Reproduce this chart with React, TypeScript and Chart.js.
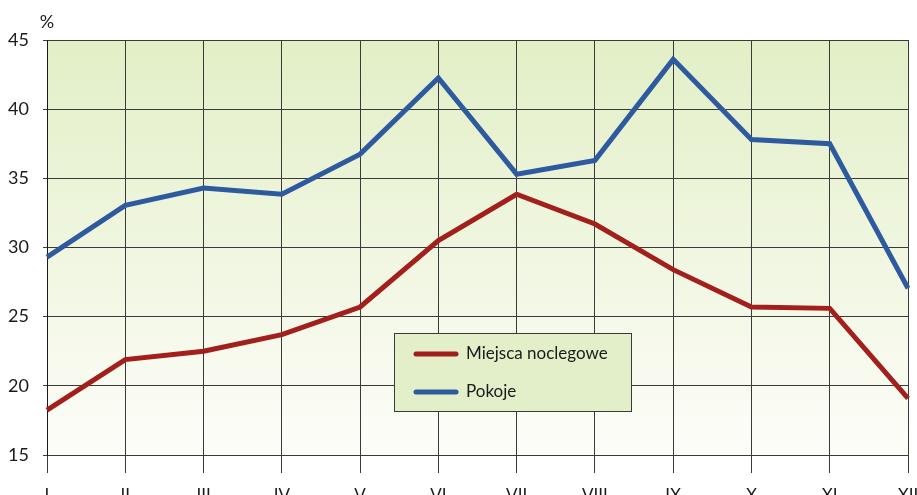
import React, { useEffect, useRef } from "react";
import { Chart, registerables } from "chart.js";

Chart.register(...registerables);

const months = ["I", "II", "III", "IV", "V", "VI", "VII", "VIII", "IX", "X", "XI", "XII"];
const miejsca = [18.25, 21.9, 22.5, 23.7, 25.7, 30.5, 33.85, 31.7, 28.4, 25.7, 25.6, 19.1];
const pokoje = [29.3, 33.05, 34.3, 33.85, 36.75, 42.25, 35.3, 36.3, 43.6, 37.8, 37.5, 27.05];
const yTicks = [15, 20, 25, 30, 35, 40, 45];
const seriesLabels = ["Miejsca noclegowe", "Pokoje"];
const unitLabel = "%";

const RED = "#a21f1c";
const BLUE = "#2e5a9f";
const FONT = "Lato, 'Liberation Sans', sans-serif";

export default function App() {
  const ref = useRef<HTMLCanvasElement | null>(null);

  useEffect(() => {
    const canvas = ref.current;
    if (!canvas) return;

    const bgPlugin = {
      id: "bg",
      beforeDraw(chart: any) {
        const { ctx, chartArea: a } = chart;
        const g = ctx.createLinearGradient(0, a.top, 0, a.bottom);
        g.addColorStop(0, "#e2efc6");
        g.addColorStop(1, "#fdfdf9");
        ctx.save();
        ctx.fillStyle = g;
        ctx.fillRect(a.left, a.top, a.right - a.left, a.bottom - a.top);
        ctx.restore();
      },
    };

    const overlayPlugin = {
      id: "overlay",
      afterDraw(chart: any) {
        const { ctx, chartArea: a } = chart;
        ctx.save();
        // unit label
        ctx.fillStyle = "#1a1a1a";
        ctx.font = `18px ${FONT}`;
        ctx.textAlign = "center";
        ctx.textBaseline = "middle";
        ctx.fillText(unitLabel, a.left, 22);

        // legend box
        const lx = 394, ly = 333, lw = 238, lh = 79;
        ctx.fillStyle = "#e3efc8";
        ctx.fillRect(lx, ly, lw, lh);
        ctx.strokeStyle = "#3a3a3a";
        ctx.lineWidth = 1;
        ctx.strokeRect(lx + 0.5, ly + 0.5, lw - 1, lh - 1);
        const items = [
          { label: chart.data.datasets[0].label, color: chart.data.datasets[0].borderColor, y: 354 },
          { label: chart.data.datasets[1].label, color: chart.data.datasets[1].borderColor, y: 392 },
        ];
        ctx.textAlign = "left";
        ctx.font = `17px ${FONT}`;
        for (const it of items) {
          ctx.strokeStyle = it.color;
          ctx.lineWidth = 5;
          ctx.lineCap = "round";
          ctx.beginPath();
          ctx.moveTo(416, it.y);
          ctx.lineTo(456, it.y);
          ctx.stroke();
          ctx.fillStyle = "#1a1a1a";
          ctx.fillText(it.label, 466, it.y);
        }
        ctx.restore();
      },
    };

    const chart = new Chart(canvas, {
      type: "line",
      data: {
        labels: months,
        datasets: [
          {
            label: seriesLabels[0],
            data: miejsca,
            borderColor: RED,
            backgroundColor: RED,
            borderWidth: 5,
            pointRadius: 0,
            tension: 0,
            borderJoinStyle: "miter",
          },
          {
            label: seriesLabels[1],
            data: pokoje,
            borderColor: BLUE,
            backgroundColor: BLUE,
            borderWidth: 5,
            pointRadius: 0,
            tension: 0,
            borderJoinStyle: "miter",
          },
        ],
      },
      options: {
        animation: false,
        responsive: false,
        maintainAspectRatio: false,
        devicePixelRatio: 1,
        layout: { padding: { top: 40, right: 9, left: 0, bottom: 0 } },
        plugins: {
          legend: { display: false },
          tooltip: { enabled: false },
        },
        scales: {
          x: {
            offset: false,
            grid: {
              color: "#3a3a3a",
              lineWidth: 1,
              tickLength: 18,
              drawTicks: true,
            },
            border: { display: false },
            ticks: {
              color: "#1a1a1a",
              font: { family: FONT, size: 17 },
              padding: 12,
              maxRotation: 0,
              autoSkip: false,
            },
            afterFit(scale: any) {
              scale.height = 65;
              scale.paddingRight = 0;
              scale.paddingLeft = 0;
            },
          },
          y: {
            min: 15,
            max: 45,
            afterBuildTicks(scale: any) {
              scale.ticks = yTicks.map((v) => ({ value: v }));
            },
            grid: {
              color: "#3a3a3a",
              lineWidth: 1,
              tickLength: 4,
            },
            border: { display: true, color: "#1a1a1a", width: 1 },
            ticks: {
              color: "#1a1a1a",
              font: { family: FONT, size: 18 },
              padding: 14,
            },
            afterFit(scale: any) {
              scale.width = 47;
              scale.paddingTop = 0;
              scale.paddingBottom = 0;
            },
          },
        },
      },
      plugins: [bgPlugin, overlayPlugin],
    } as any);

    return () => chart.destroy();
  }, []);

  return (
    <div style={{ position: "fixed", left: 0, top: 0, width: 917, height: 520, background: "#fff" }}>
      <canvas ref={ref} width={917} height={520} style={{ width: 917, height: 520, display: "block" }} />
    </div>
  );
}
